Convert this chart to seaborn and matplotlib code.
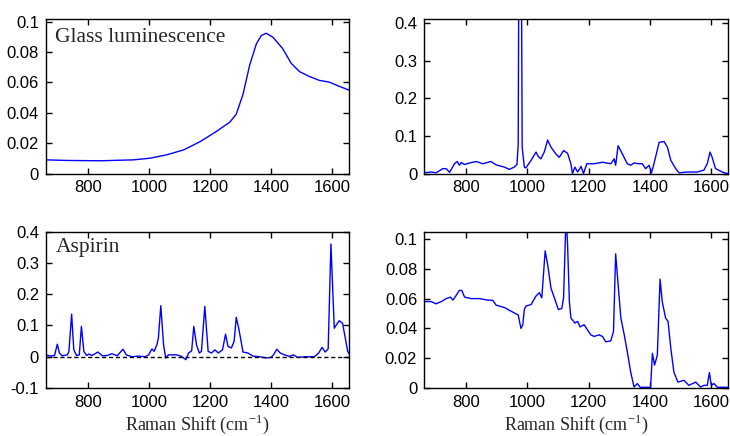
import matplotlib
matplotlib.use("Agg")
import matplotlib.pyplot as plt
import seaborn as sns
from matplotlib.ticker import FuncFormatter

# --- Data ---
glass_x = [663, 733, 841, 950, 1004, 1058, 1113, 1167, 1221, 1265, 1286, 1308,
           1330, 1352, 1368, 1384, 1406, 1438, 1466, 1493, 1525, 1558, 1590,
           1623, 1659]
glass_y = [0.009, 0.0086, 0.0084, 0.009, 0.0101, 0.0123, 0.0155, 0.0209,
           0.0277, 0.0338, 0.0391, 0.052, 0.0714, 0.0854, 0.0908, 0.0923,
           0.0897, 0.0822, 0.0725, 0.0671, 0.0639, 0.0613, 0.0602, 0.0574,
           0.0546]

aspirin_x = [663, 678, 691, 700, 707, 716, 733, 738, 747, 754, 763, 772, 779,
             787, 796, 803, 814, 833, 847, 863, 879, 896, 915, 926, 944, 966,
             988, 999, 1010, 1017, 1026, 1031, 1039, 1048, 1055, 1064, 1091,
             1107, 1121, 1130, 1140, 1147, 1156, 1165, 1172, 1183, 1194, 1205,
             1216, 1227, 1241, 1251, 1259, 1270, 1279, 1286, 1294, 1301, 1308,
             1324, 1341, 1362, 1384, 1400, 1408, 1419, 1430, 1444, 1460, 1473,
             1487, 1514, 1542, 1556, 1567, 1577, 1587, 1596, 1607, 1614, 1623,
             1634, 1643, 1651, 1658]
aspirin_y = [0.006, 0.002, 0.004, 0.040, 0.012, 0.003, 0.006, 0.017, 0.136,
             0.022, 0.004, 0.006, 0.097, 0.017, 0.004, 0.0085, 0.004, 0.015,
             0.003, 0.004, 0.0095, 0.003, 0.024, 0.006, 0.0, 0.002, 0.0, 0.006,
             0.025, 0.017, 0.038, 0.06, 0.163, 0.038, -0.004, 0.006, 0.006,
             0.001, -0.0095, 0.012, 0.019, 0.097, 0.038, 0.012, 0.017, 0.161,
             0.017, 0.012, 0.022, 0.012, 0.022, 0.072, 0.033, 0.028, 0.049,
             0.126, 0.091, 0.054, 0.015, 0.012, 0.002, 0.0, -0.004, -0.002,
             0.006, 0.024, 0.012, 0.006, 0.001, 0.006, -0.002, 0.0, 0.0, 0.012,
             0.030, 0.015, 0.025, 0.36, 0.091, 0.102, 0.115, 0.107, 0.06,
             0.017, 0.006]

tr_x = [662, 686, 702, 724, 735, 746, 762, 771, 778, 784, 795, 811, 833, 854,
        881, 898, 925, 941, 957, 966, 970, 974, 978, 983, 990, 995, 1012, 1028,
        1036, 1044, 1055, 1066, 1077, 1093, 1104, 1118, 1131, 1142, 1147, 1155,
        1164, 1175, 1183, 1194, 1218, 1245, 1272, 1283, 1288, 1296, 1310, 1326,
        1337, 1348, 1364, 1375, 1386, 1397, 1405, 1413, 1430, 1446, 1457, 1468,
        1484, 1495, 1522, 1554, 1576, 1587, 1596, 1603, 1614, 1636, 1647, 1655]
tr_y = [0.002, 0.004, 0.002, 0.013, 0.013, 0.003, 0.026, 0.032, 0.022, 0.029,
        0.024, 0.028, 0.032, 0.026, 0.032, 0.023, 0.017, 0.011, 0.017, 0.024,
        0.078, 1.0, 1.0, 0.07, 0.017, 0.015, 0.035, 0.057, 0.045, 0.039, 0.057,
        0.089, 0.07, 0.052, 0.043, 0.061, 0.054, 0.026, 0.0, 0.017, 0.004,
        0.019, 0.0, 0.026, 0.026, 0.030, 0.026, 0.039, 0.022, 0.074, 0.052,
        0.026, 0.022, 0.028, 0.026, 0.026, 0.013, 0.022, 0.002, 0.026, 0.083,
        0.085, 0.07, 0.035, 0.013, 0.002, 0.004, 0.004, 0.009, 0.026, 0.057,
        0.043, 0.013, 0.004, 0.001, 0.0]

br_x = [665, 686, 702, 719, 735, 749, 757, 767, 778, 786, 795, 816, 843, 871,
        887, 898, 925, 947, 970, 979, 985, 990, 995, 1012, 1028, 1039, 1047,
        1058, 1066, 1077, 1088, 1101, 1112, 1118, 1126, 1131, 1137, 1142, 1155,
        1164, 1172, 1185, 1196, 1207, 1218, 1234, 1245, 1256, 1272, 1281, 1288,
        1296, 1305, 1316, 1326, 1337, 1348, 1359, 1368, 1402, 1408, 1415, 1424,
        1433, 1440, 1451, 1459, 1468, 1478, 1491, 1511, 1527, 1549, 1565, 1576,
        1587, 1594, 1600, 1609, 1620, 1655]
br_y = [0.058, 0.058, 0.0565, 0.058, 0.060, 0.061, 0.059, 0.062, 0.0655,
        0.0655, 0.061, 0.060, 0.060, 0.059, 0.0588, 0.0556, 0.054, 0.0515,
        0.049, 0.040, 0.0425, 0.0527, 0.055, 0.056, 0.0617, 0.064, 0.0605,
        0.092, 0.083, 0.067, 0.0605, 0.0527, 0.0533, 0.0605, 0.115, 0.097,
        0.058, 0.047, 0.0436, 0.0447, 0.041, 0.0425, 0.039, 0.0357, 0.0346,
        0.0357, 0.0346, 0.031, 0.0316, 0.038, 0.090, 0.0696, 0.047, 0.0357,
        0.0244, 0.0108, 0.0007, 0.003, 0.0005, 0.0005, 0.0233, 0.0154, 0.022,
        0.073, 0.058, 0.047, 0.0447, 0.0267, 0.0108, 0.004, 0.0052, 0.0018,
        0.004, 0.0007, 0.0018, 0.0018, 0.0104, 0.0018, 0.003, 0.0005, 0.0005]

x_ticks = [800, 1000, 1200, 1400, 1600]
glass_yticks = [0, 0.02, 0.04, 0.06, 0.08, 0.1]
aspirin_yticks = [-0.1, 0, 0.1, 0.2, 0.3, 0.4]
tr_yticks = [0, 0.1, 0.2, 0.3, 0.4]
br_yticks = [0, 0.02, 0.04, 0.06, 0.08, 0.1]

# --- Style ---
sns.set_theme(style="ticks")
plt.rcParams["font.family"] = ["Liberation Sans", "DejaVu Sans"]
plt.rcParams.update({
    "xtick.direction": "in", "ytick.direction": "in",
    "xtick.top": True, "ytick.right": True,
    "xtick.major.size": 4, "ytick.major.size": 4,
    "xtick.major.width": 1.0, "ytick.major.width": 1.0,
    "xtick.major.pad": 5, "ytick.major.pad": 5,
    "xtick.labelsize": 12, "ytick.labelsize": 12,
    "xtick.color": "black", "ytick.color": "black",
    "axes.edgecolor": "black", "axes.linewidth": 1.0,
})

fig = plt.figure(figsize=(7.3, 4.36), dpi=100)
ax_tl = fig.add_axes([0.063, 0.602, 0.415, 0.3555])
ax_tr = fig.add_axes([0.581, 0.602, 0.4164, 0.3555])
ax_bl = fig.add_axes([0.063, 0.110, 0.415, 0.359])
ax_br = fig.add_axes([0.581, 0.110, 0.4164, 0.359])

fmt = FuncFormatter(lambda v, p: "%g" % round(v, 4))
serif = ["Liberation Serif", "DejaVu Serif"]


def draw(ax, x, y, ylim, yticks):
    sns.lineplot(x=x, y=y, ax=ax, color="blue", linewidth=1.0)
    ax.set_xlim(663, 1655)
    ax.set_ylim(*ylim)
    ax.set_xticks(x_ticks)
    ax.set_yticks(yticks)
    ax.yaxis.set_major_formatter(fmt)
    for s in ax.spines.values():
        s.set_visible(True)


draw(ax_tl, glass_x, glass_y, (0, 0.102), glass_yticks)
draw(ax_tr, tr_x, tr_y, (0, 0.412), tr_yticks)
draw(ax_bl, aspirin_x, aspirin_y, (-0.1, 0.4), aspirin_yticks)
draw(ax_br, br_x, br_y, (0, 0.105), br_yticks)

ax_bl.axhline(0, color="black", linestyle="--", linewidth=1.0, dashes=(3, 2))

ax_tl.text(0.03, 0.875, "Glass luminescence", transform=ax_tl.transAxes,
           family=serif, fontsize=15.5, va="center", ha="left")
ax_bl.text(0.033, 0.90, "Aspirin", transform=ax_bl.transAxes,
           family=serif, fontsize=15.5, va="center", ha="left")

for ax in (ax_bl, ax_br):
    ax.set_xlabel(r"Raman Shift (cm$^{\mathregular{-1}}$)", family=serif,
                  fontsize=13, labelpad=2)

fig.savefig("out.png", dpi=100)
